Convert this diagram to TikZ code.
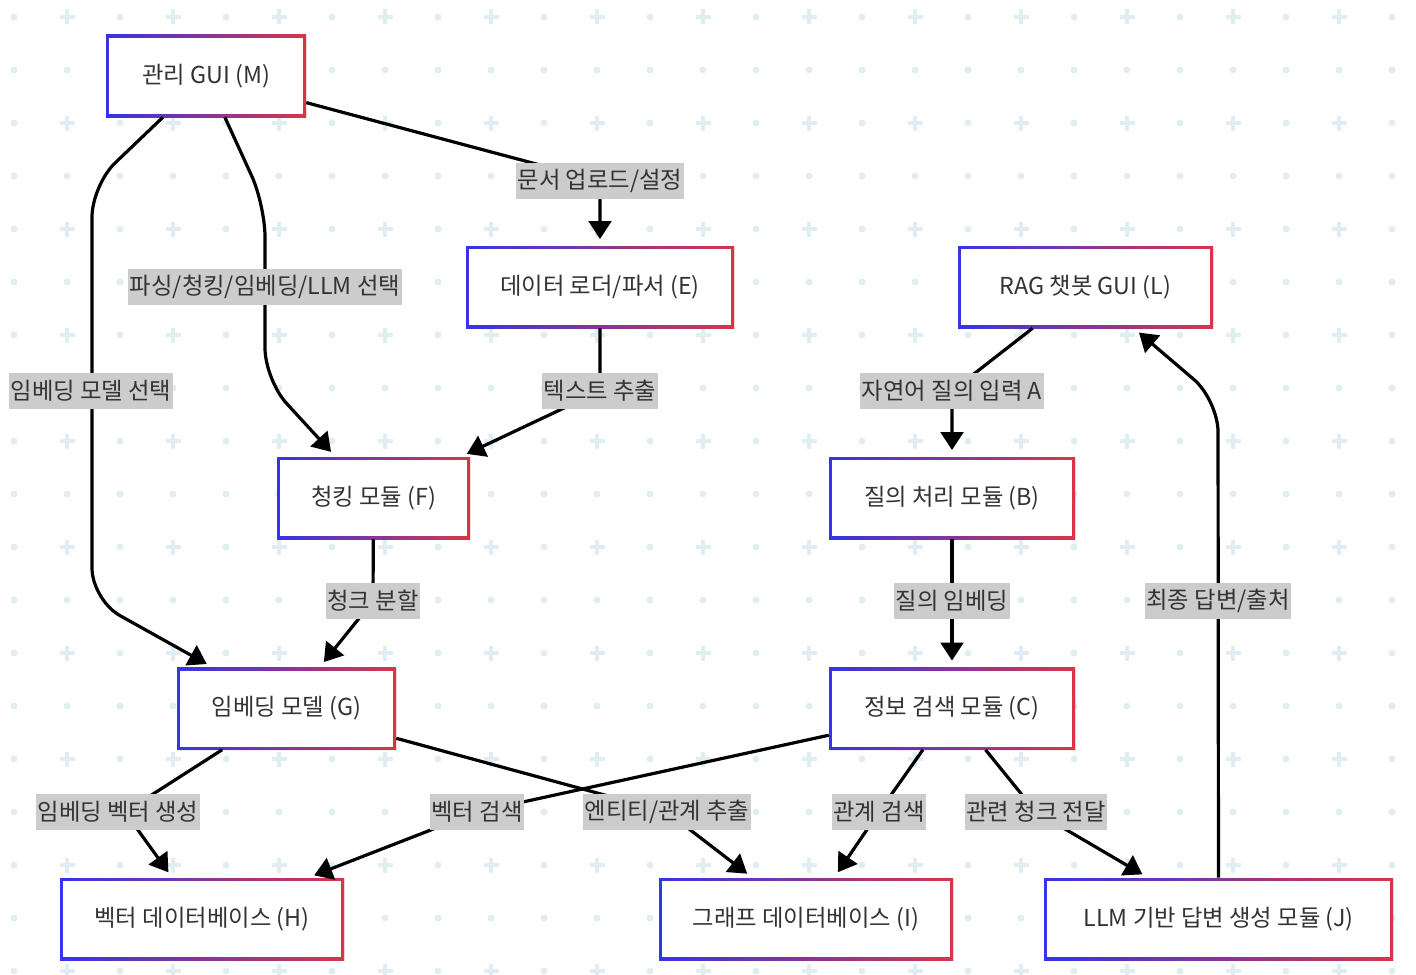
\documentclass[tikz,border=0pt]{standalone}
\usepackage{fontspec}
\setmainfont{Noto Sans CJK KR}
\usetikzlibrary{arrows.meta,shadows}
\definecolor{gblue}{RGB}{52,52,232}
\definecolor{gred}{RGB}{216,54,72}
\definecolor{gridc}{RGB}{224,237,242}
\definecolor{txt}{RGB}{51,51,51}
\definecolor{lblbg}{RGB}{204,204,204}
\tikzset{
  gnode/.style={rectangle, minimum height=61.5pt, inner sep=0pt,
    left color=gblue, right color=gred, text=txt,
    font=\fontsize{17.5}{21}\selectfont,
    drop shadow={shadow xshift=1pt, shadow yshift=-1pt, opacity=0.12},
    path picture={\fill[white] ([xshift=2.25pt,yshift=-2.25pt]path picture bounding box.north west) rectangle ([xshift=-2.25pt,yshift=2.25pt]path picture bounding box.south east);}},
  lbl/.style={fill=lblbg, text=txt, font=\fontsize{17.5}{21}\selectfont,
    inner xsep=1.2pt, inner ysep=0pt, minimum height=27pt},
  edge/.style={line width=2.4pt, black, line join=round,
    -{Triangle[length=13.5pt,width=17pt]}, shorten >=5pt},
  plain/.style={line width=2.4pt, black, line join=round}
}
\begin{document}
\begin{tikzpicture}[x=0.75pt,y=-0.75pt]
\fill[white] (0,0) rectangle (1416,974);
\useasboundingbox (0,0) rectangle (1416,974);
% background pattern
\foreach \j in {0,...,18}{
  \foreach \i in {0,...,26}{
    \pgfmathsetmacro\gx{14+53*\i}
    \pgfmathsetmacro\gy{17+53*\j}
    \pgfmathtruncatemacro\isplus{and(mod(\j,2)==0,mod(\i,2)==1)}
    \ifnum\isplus=1
      \draw[gridc,line width=3pt] (\gx-7.5,\gy) -- (\gx+7.5,\gy) (\gx,\gy-7.5) -- (\gx,\gy+7.5);
    \else
      \fill[gridc] (\gx,\gy) circle[radius=2.6pt];
    \fi
  }
}
% nodes
\node[gnode,minimum width=150pt]    (M) at (206,76)    {관리 GUI (M)};
\node[gnode,minimum width=201pt]    (E) at (600,287)   {데이터 로더/파서 (E)};
\node[gnode,minimum width=191.25pt] (L) at (1085.5,287) {RAG 챗봇 GUI (L)};
\node[gnode,minimum width=144.75pt] (F) at (373.5,498) {청킹 모듈 (F)};
\node[gnode,minimum width=184.5pt]  (B) at (952,498)   {질의 처리 모듈 (B)};
\node[gnode,minimum width=164.25pt] (G) at (286.5,708.5) {임베딩 모델 (G)};
\node[gnode,minimum width=184.5pt]  (C) at (952,708.5) {정보 검색 모듈 (C)};
\node[gnode,minimum width=213pt]    (H) at (202,919)   {벡터 데이터베이스 (H)};
\node[gnode,minimum width=220.5pt]  (I) at (806,919)   {그래프 데이터베이스 (I)};
\node[gnode,minimum width=261.75pt] (J) at (1218.5,919) {LLM 기반 답변 생성 모듈 (J)};
% waypoints
\coordinate (wME) at (600,181);
\coordinate (wMF1) at (265,205);
\coordinate (wMF2) at (265,380);
\coordinate (wMF) at (265,287);
\coordinate (wMG1) at (92,185);
\coordinate (wMG2) at (92,600);
\coordinate (wMG) at (91,391);
\coordinate (wEF) at (600,391);
\coordinate (wLB) at (952,391);
\coordinate (wFG) at (373,601);
\coordinate (wBC) at (952,601);
\coordinate (wJL1) at (1218,400);
\coordinate (wJL) at (1218,601);
\coordinate (wGH) at (125,812);
\coordinate (wCH) at (477,812);
\coordinate (wGI) at (667,812);
\coordinate (wCI) at (879,812);
\coordinate (wCJ) at (1036,812);
% edges
\draw[edge,rounded corners=12pt] (M) -- (wME) -- (E);
\draw[edge,rounded corners=24pt] (M) -- (wMF1) -- (wMF2) -- (F);
\draw[edge,rounded corners=24pt] (M) -- (wMG1) -- (wMG2) -- (G);
\draw[edge] (E) -- (wEF) -- (F);
\draw[edge] (L) -- (wLB) -- (B);
\draw[edge] (F) -- (wFG) -- (G);
\draw[edge] (B) -- (C);
\draw[edge,rounded corners=24pt] (J) -- (wJL1) -- (L);
\draw[edge] (G) -- (wGH) -- (H);
\draw[edge] (C) -- (wCH) -- (H);
\draw[edge] (G) -- (wGI) -- (I);
\draw[edge] (C) -- (wCI) -- (I);
\draw[edge] (C) -- (wCJ) -- (J);
% labels
\node[lbl] (lME) at (wME) {문서 업로드/설정};
\node[lbl] (lMF) at (wMF) {파싱/청킹/임베딩/LLM 선택};
\node[lbl] (lMG) at (wMG) {임베딩 모델 선택};
\node[lbl] (lEF) at (wEF) {텍스트 추출};
\node[lbl] (lLB) at (wLB) {자연어 질의 입력 A};
\node[lbl] (lFG) at (wFG) {청크 분할};
\node[lbl] (lBC) at (wBC) {질의 임베딩};
\node[lbl] (lJL) at (wJL) {최종 답변/출처};
\node[lbl] (lGH) at (118,812) {임베딩 벡터 생성};
\node[lbl] (lCH) at (wCH) {벡터 검색};
\node[lbl] (lGI) at (wGI) {엔티티/관계 추출};
\node[lbl] (lCI) at (wCI) {관계 검색};
\node[lbl] (lCJ) at (wCJ) {관련 청크 전달};
\end{tikzpicture}
\end{document}
